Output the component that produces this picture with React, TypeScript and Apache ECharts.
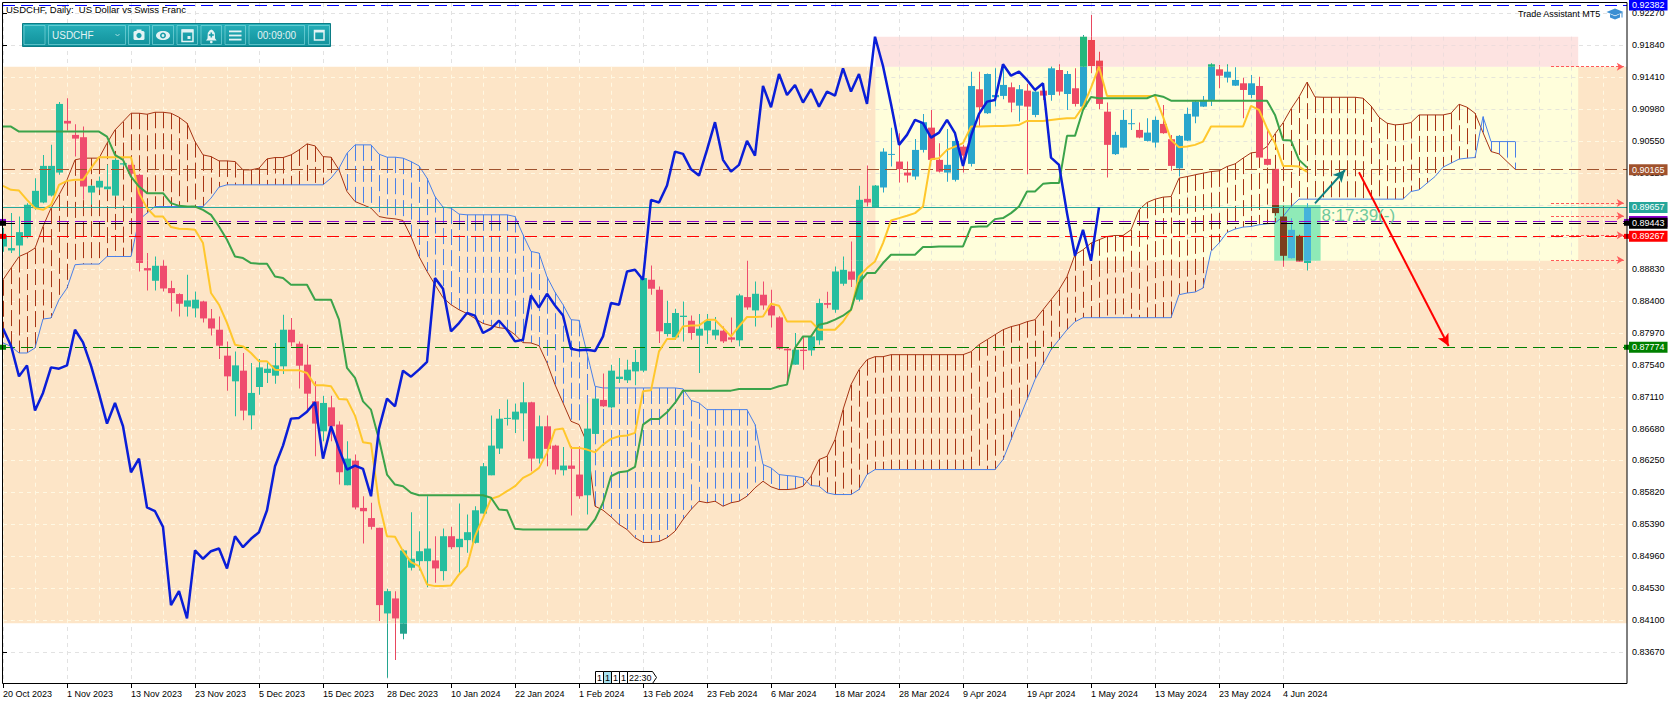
import React, { useEffect, useRef } from "react";
import * as echarts from "echarts";

const FONT = '"Liberation Sans", Arial, sans-serif';

// ---------- axis labels ----------
const DATE_LABELS = [
  "20 Oct 2023", "1 Nov 2023", "13 Nov 2023", "23 Nov 2023", "5 Dec 2023", "15 Dec 2023",
  "28 Dec 2023", "10 Jan 2024", "22 Jan 2024", "1 Feb 2024", "13 Feb 2024", "23 Feb 2024",
  "6 Mar 2024", "18 Mar 2024", "28 Mar 2024", "9 Apr 2024", "19 Apr 2024", "1 May 2024",
  "13 May 2024", "23 May 2024", "4 Jun 2024",
];
const LABEL_STEP = 8;
const Y_TICKS = [
  0.8367, 0.841, 0.8453, 0.8496, 0.8539, 0.8582, 0.8625, 0.8668, 0.8711, 0.8754, 0.8797,
  0.884, 0.8883, 0.8926, 0.8969, 0.9012, 0.9055, 0.9098, 0.9141, 0.9184, 0.9227,
];
const Y_MIN = 0.8324;
const Y_MAX = 0.92409;
const Y_STEP = 0.0043;
const X_MAX = 203;
const X_GRID = 4;

// ---------- candles ----------
const OPEN = [
  0.8913, 0.89077, 0.89144, 0.89257, 0.89647, 0.89723, 0.89816, 0.90126, 0.90822, 0.90633,
  0.90602, 0.89857, 0.89925, 0.89902, 0.89816, 0.90234, 0.9023, 0.90095, 0.8884, 0.88669,
  0.88871, 0.88571, 0.8849, 0.8832, 0.88297, 0.88391, 0.88162, 0.8801, 0.87661, 0.87315,
  0.87459, 0.86857, 0.87239, 0.87428, 0.87391, 0.87517, 0.8801, 0.87822, 0.8754, 0.87046,
  0.86642, 0.86965, 0.86733, 0.85916, 0.86248, 0.85611, 0.85474, 0.85343, 0.8419, 0.84392,
  0.83917, 0.84805, 0.84894, 0.84894, 0.84904, 0.8476, 0.8523, 0.85082, 0.85177, 0.85141,
  0.85535, 0.8605, 0.8641, 0.86809, 0.868, 0.86884, 0.87033, 0.86275, 0.8671, 0.8645,
  0.86118, 0.86181, 0.8606, 0.85781, 0.86607, 0.87065, 0.86965, 0.87347, 0.87329, 0.87449,
  0.87459, 0.88683, 0.88548, 0.87952, 0.87907, 0.88181, 0.88131, 0.8793, 0.88001, 0.87933,
  0.87997, 0.87907, 0.87867, 0.8845, 0.8827, 0.88481, 0.88333, 0.88176, 0.87754, 0.8754,
  0.87741, 0.87732, 0.87867, 0.88369, 0.88279, 0.88629, 0.88794, 0.88414, 0.89772, 0.8966,
  0.89925, 0.90364, 0.90274, 0.90126, 0.90073, 0.90431, 0.90731, 0.90297, 0.90126, 0.90028,
  0.90475, 0.90243, 0.91247, 0.90925, 0.9114, 0.91158, 0.91275, 0.91027, 0.91229, 0.90902,
  0.91229, 0.91171, 0.91507, 0.91184, 0.91261, 0.91014, 0.91911, 0.91633, 0.90946, 0.90374,
  0.90462, 0.90777, 0.907, 0.90552, 0.9053, 0.90781, 0.90575, 0.90184, 0.90556, 0.9088,
  0.91014, 0.91104, 0.91516, 0.91404, 0.91296, 0.91328, 0.91171, 0.91292, 0.9031, 0.90176,
  0.89534, 0.88974, 0.89274, 0.88908,
];
const HIGH = [
  0.89382, 0.8958, 0.89534, 0.89714, 0.90051, 0.90364, 0.90499, 0.91077, 0.91127, 0.90777,
  0.90745, 0.8996, 0.90073, 0.9023, 0.90341, 0.90297, 0.9027, 0.9011, 0.89042, 0.88996,
  0.88952, 0.88669, 0.885, 0.8875, 0.88525, 0.884, 0.88288, 0.88189, 0.87853, 0.87718,
  0.87697, 0.87563, 0.87616, 0.87563, 0.87831, 0.88212, 0.88168, 0.87853, 0.87808, 0.87315,
  0.87122, 0.87122, 0.86777, 0.86508, 0.86329, 0.85768, 0.85679, 0.85343, 0.84522, 0.8449,
  0.8505, 0.85553, 0.85297, 0.85768, 0.8523, 0.85333, 0.85356, 0.8567, 0.85522, 0.85633,
  0.86217, 0.86854, 0.86943, 0.87069, 0.87015, 0.87302, 0.8704, 0.86854, 0.86854, 0.8646,
  0.86432, 0.86441, 0.86441, 0.87024, 0.871, 0.87419, 0.8754, 0.8763, 0.87607, 0.87741,
  0.8872, 0.88875, 0.88592, 0.884, 0.88293, 0.88391, 0.88202, 0.88221, 0.88221, 0.88181,
  0.88054, 0.88176, 0.88494, 0.88938, 0.8866, 0.8866, 0.88548, 0.8819, 0.8776, 0.87966,
  0.8792, 0.8793, 0.88427, 0.88521, 0.88862, 0.88996, 0.89198, 0.89947, 0.9022, 0.8996,
  0.90454, 0.90731, 0.90656, 0.90274, 0.90579, 0.90916, 0.90969, 0.90521, 0.90713, 0.90664,
  0.90499, 0.91484, 0.91484, 0.9146, 0.9153, 0.91584, 0.91337, 0.91306, 0.91319, 0.91261,
  0.91328, 0.91552, 0.91584, 0.91493, 0.9153, 0.91978, 0.92247, 0.91754, 0.91068, 0.90677,
  0.90969, 0.90978, 0.90799, 0.90857, 0.9088, 0.91036, 0.90633, 0.90633, 0.91, 0.91104,
  0.91158, 0.91597, 0.91574, 0.91584, 0.91543, 0.91404, 0.9144, 0.91417, 0.907, 0.9018,
  0.89678, 0.89512, 0.8929, 0.89714,
];
const LOW = [
  0.89059, 0.89042, 0.88996, 0.89243, 0.89624, 0.89714, 0.89803, 0.90095, 0.90691, 0.90341,
  0.89759, 0.89692, 0.89893, 0.89893, 0.89803, 0.90207, 0.9006, 0.88794, 0.88539, 0.88539,
  0.88525, 0.88256, 0.88189, 0.88189, 0.88176, 0.88108, 0.87933, 0.87616, 0.8719, 0.86844,
  0.86791, 0.86665, 0.87136, 0.87293, 0.87284, 0.87414, 0.87786, 0.87217, 0.86934, 0.86306,
  0.86508, 0.86508, 0.85925, 0.85916, 0.85589, 0.85132, 0.8532, 0.84087, 0.83325, 0.83563,
  0.83841, 0.84769, 0.84769, 0.84544, 0.84604, 0.84634, 0.85055, 0.84738, 0.85006, 0.85132,
  0.85535, 0.8605, 0.86338, 0.86719, 0.86621, 0.86508, 0.86104, 0.86208, 0.86172, 0.8606,
  0.86046, 0.85508, 0.85733, 0.85522, 0.8659, 0.8697, 0.8695, 0.87293, 0.87293, 0.87261,
  0.87436, 0.88481, 0.87831, 0.8792, 0.87876, 0.87853, 0.87876, 0.87428, 0.87818, 0.87876,
  0.87831, 0.8784, 0.87786, 0.88279, 0.88054, 0.88279, 0.88041, 0.87741, 0.87302, 0.8754,
  0.87472, 0.87661, 0.87808, 0.883, 0.8824, 0.88602, 0.88584, 0.88391, 0.89669, 0.8965,
  0.89857, 0.90207, 0.89992, 0.89992, 0.90028, 0.90395, 0.90284, 0.90126, 0.90001, 0.90005,
  0.90126, 0.90207, 0.90754, 0.90916, 0.91014, 0.91113, 0.90938, 0.90812, 0.90104, 0.90871,
  0.91104, 0.91094, 0.91162, 0.90969, 0.91014, 0.90969, 0.91463, 0.90979, 0.90059, 0.90364,
  0.90462, 0.907, 0.90589, 0.90543, 0.90462, 0.90647, 0.90149, 0.90073, 0.9055, 0.90791,
  0.9101, 0.91023, 0.91261, 0.91337, 0.91292, 0.90857, 0.91127, 0.9032, 0.9022, 0.89543,
  0.88858, 0.8897, 0.88925, 0.88808,
];
const CLOSE = [
  0.89288, 0.89109, 0.89324, 0.89692, 0.8988, 0.90216, 0.90216, 0.9105, 0.90786, 0.90583,
  0.89938, 0.89947, 0.90015, 0.89938, 0.90297, 0.90252, 0.9011, 0.88908, 0.88808, 0.88871,
  0.88565, 0.88503, 0.8836, 0.88405, 0.88414, 0.88162, 0.88027, 0.87795, 0.87382, 0.8753,
  0.86921, 0.87159, 0.87503, 0.87485, 0.8753, 0.8801, 0.8784, 0.87526, 0.87149, 0.86746,
  0.87024, 0.8671, 0.86091, 0.86275, 0.85617, 0.85566, 0.85356, 0.84302, 0.8449, 0.84123,
  0.85038, 0.84926, 0.85028, 0.85064, 0.84796, 0.8523, 0.85082, 0.85195, 0.85284, 0.85579,
  0.86172, 0.8645, 0.86813, 0.86823, 0.86907, 0.87033, 0.86275, 0.8671, 0.86406, 0.86127,
  0.86181, 0.86137, 0.85768, 0.86679, 0.87082, 0.86979, 0.87459, 0.87378, 0.87472, 0.87576,
  0.88706, 0.88562, 0.87988, 0.881, 0.88235, 0.88199, 0.87966, 0.88024, 0.88131, 0.8801,
  0.87853, 0.87876, 0.88472, 0.8831, 0.88494, 0.88337, 0.88202, 0.87754, 0.87732, 0.87741,
  0.87723, 0.8792, 0.88369, 0.88346, 0.88794, 0.88817, 0.88683, 0.89759, 0.89723, 0.89951,
  0.90408, 0.90377, 0.90171, 0.90086, 0.90431, 0.90804, 0.90297, 0.90139, 0.9023, 0.90552,
  0.90354, 0.91292, 0.91005, 0.91453, 0.91171, 0.91306, 0.91068, 0.91248, 0.91014, 0.91216,
  0.91162, 0.9153, 0.91216, 0.91453, 0.9105, 0.91955, 0.91561, 0.9105, 0.90499, 0.90633,
  0.90835, 0.90791, 0.90597, 0.90664, 0.90835, 0.90656, 0.90216, 0.9062, 0.90916, 0.91081,
  0.91104, 0.91584, 0.9143, 0.91484, 0.91373, 0.91238, 0.91328, 0.90328, 0.9023, 0.8958,
  0.89005, 0.89355, 0.88938, 0.89657,
];

// ---------- Ichimoku lines ----------
const TENKAN = [
  0.89947, 0.89893, 0.89884, 0.89759, 0.89647, 0.89624, 0.89692, 0.8996, 0.90014, 0.90028,
  0.90028, 0.90185, 0.90333, 0.90333, 0.90333, 0.90333, 0.90333, 0.89849, 0.89647, 0.89534,
  0.89534, 0.89392, 0.89369, 0.89365, 0.89355, 0.89177, 0.88504, 0.88347, 0.88101, 0.87809,
  0.87786, 0.87697, 0.87584, 0.87584, 0.87472, 0.87463, 0.87463, 0.87463, 0.87428, 0.87261,
  0.87261, 0.87248, 0.87078, 0.87069, 0.86854, 0.86495, 0.86477, 0.8568, 0.8523, 0.85222,
  0.85029, 0.84881, 0.84827, 0.84581, 0.84558, 0.84558, 0.84567, 0.84715, 0.84827, 0.8523,
  0.85478, 0.85733, 0.85768, 0.85836, 0.85903, 0.86016, 0.8607, 0.8615, 0.86352, 0.86665,
  0.86679, 0.86419, 0.86419, 0.86396, 0.8636, 0.86463, 0.8654, 0.86575, 0.86585, 0.86621,
  0.87181, 0.87194, 0.87718, 0.87885, 0.87885, 0.88055, 0.88068, 0.88068, 0.88145, 0.88145,
  0.88033, 0.8792, 0.88055, 0.88181, 0.88181, 0.88189, 0.8836, 0.88333, 0.88122, 0.88122,
  0.88122, 0.88122, 0.8801, 0.8801, 0.8801, 0.88118, 0.88279, 0.88727, 0.8884, 0.88929,
  0.89177, 0.8948, 0.89513, 0.89544, 0.8958, 0.89669, 0.90306, 0.9032, 0.90431, 0.90476,
  0.90522, 0.90745, 0.90745, 0.9075, 0.90754, 0.90754, 0.90761, 0.90768, 0.90821, 0.90821,
  0.90821, 0.90835, 0.90848, 0.90858, 0.90858, 0.91014, 0.91265, 0.91552, 0.91158, 0.91158,
  0.91158, 0.91158, 0.91158, 0.91158, 0.91158, 0.90879, 0.90566, 0.90468, 0.90476, 0.90499,
  0.90543, 0.90745, 0.90745, 0.90745, 0.90745, 0.90745, 0.91023, 0.90969, 0.90723, 0.90522,
  0.90216, 0.90216, 0.90207, 0.90136,
];
const KIJUN = [
  0.90745, 0.90745, 0.90678, 0.90678, 0.90678, 0.90678, 0.90678, 0.90678, 0.90678, 0.90678,
  0.90678, 0.90678, 0.90678, 0.9061, 0.90364, 0.90297, 0.90072, 0.89938, 0.89849, 0.89849,
  0.89849, 0.89715, 0.89678, 0.89669, 0.89669, 0.89624, 0.89557, 0.894, 0.89221, 0.88996,
  0.88975, 0.88908, 0.88898, 0.88898, 0.88727, 0.88706, 0.88616, 0.88616, 0.88616, 0.88414,
  0.88414, 0.88414, 0.88145, 0.87495, 0.87361, 0.87046, 0.86934, 0.86531, 0.8606, 0.85926,
  0.85903, 0.85814, 0.85782, 0.85782, 0.85782, 0.85782, 0.85782, 0.85782, 0.85782, 0.85782,
  0.85782, 0.85747, 0.85589, 0.8558, 0.8533, 0.8532, 0.8532, 0.8532, 0.8532, 0.8532,
  0.8532, 0.8532, 0.8532, 0.8532, 0.85455, 0.8568, 0.86037, 0.86091, 0.86104, 0.86163,
  0.86732, 0.86809, 0.86809, 0.86898, 0.87024, 0.8719, 0.8719, 0.8719, 0.8719, 0.8719,
  0.8719, 0.8719, 0.87213, 0.87213, 0.87213, 0.87213, 0.87213, 0.87248, 0.87271, 0.87764,
  0.8792, 0.8792, 0.88078, 0.88101, 0.88145, 0.88199, 0.88279, 0.88639, 0.88773, 0.88773,
  0.88908, 0.8902, 0.8902, 0.8902, 0.8902, 0.89123, 0.89123, 0.89131, 0.89131, 0.89131,
  0.89131, 0.89392, 0.894, 0.894, 0.89499, 0.89513, 0.8958, 0.89669, 0.89871, 0.89871,
  0.89974, 0.89984, 0.89984, 0.9062, 0.9062, 0.90969, 0.91144, 0.91127, 0.91127, 0.91127,
  0.91127, 0.91127, 0.91127, 0.91127, 0.91171, 0.91148, 0.91094, 0.91094, 0.91094, 0.91094,
  0.91094, 0.91094, 0.91094, 0.91094, 0.91094, 0.91094, 0.91094, 0.91094, 0.91094, 0.90902,
  0.90566, 0.90557, 0.90297, 0.90196,
];
const SPAN_A = [
  0.88683, 0.8884, 0.88996, 0.89042, 0.89109, 0.894, 0.89647, 0.89826, 0.90028, 0.90297,
  0.9032, 0.9032, 0.9032, 0.90522, 0.907, 0.90812, 0.90925, 0.90925, 0.90911, 0.90938,
  0.90938, 0.90925, 0.90871, 0.90791, 0.90543, 0.90364, 0.90341, 0.90283, 0.90283, 0.90274,
  0.90162, 0.90162, 0.90185, 0.9031, 0.90328, 0.90328, 0.90364, 0.90431, 0.90512, 0.90485,
  0.90341, 0.90333, 0.90162, 0.89871, 0.89736, 0.89692, 0.89647, 0.89534, 0.89513, 0.89503,
  0.89481, 0.89265, 0.88996, 0.88795, 0.88616, 0.88441, 0.88347, 0.88279, 0.88228, 0.88161,
  0.88095, 0.88064, 0.88037, 0.88024, 0.87943, 0.87836, 0.87832, 0.87795, 0.87563, 0.87271,
  0.87025, 0.86777, 0.86733, 0.86487, 0.85634, 0.8558, 0.85491, 0.85388, 0.8532, 0.85209,
  0.85146, 0.85146, 0.85159, 0.85209, 0.85297, 0.85455, 0.85589, 0.85701, 0.8568, 0.85701,
  0.85634, 0.8568, 0.85701, 0.85768, 0.85881, 0.8597, 0.85895, 0.85858, 0.85858, 0.85868,
  0.85903, 0.86037, 0.86262, 0.86306, 0.86531, 0.86934, 0.87271, 0.87472, 0.87607, 0.87647,
  0.87647, 0.87674, 0.87674, 0.87674, 0.87674, 0.87674, 0.87674, 0.87674, 0.87674, 0.87674,
  0.87674, 0.87714, 0.87809, 0.87876, 0.87943, 0.8801, 0.88051, 0.88078, 0.88118, 0.88145,
  0.88279, 0.88414, 0.88548, 0.88727, 0.8902, 0.89086, 0.89177, 0.89221, 0.89265, 0.89279,
  0.89279, 0.89355, 0.89624, 0.89723, 0.89768, 0.89795, 0.89803, 0.90051, 0.90072, 0.90095,
  0.90118, 0.90139, 0.90149, 0.90207, 0.90243, 0.9032, 0.90391, 0.90404, 0.90476, 0.90647,
  0.90795, 0.90983, 0.91144, 0.91343, 0.91144, 0.9114, 0.9114, 0.9114, 0.9114, 0.9114,
  0.91127, 0.91023, 0.90871, 0.90791, 0.90768, 0.90777, 0.90799, 0.90902, 0.90902, 0.90902,
  0.90902, 0.90925, 0.91046, 0.91006, 0.90925, 0.90664, 0.90409, 0.90378, 0.90274, 0.90172,
];
const SPAN_B = [
  0.87832, 0.87786, 0.87697, 0.87697, 0.87764, 0.88154, 0.88168, 0.88414, 0.88571, 0.88885,
  0.88894, 0.88894, 0.88894, 0.88996, 0.88996, 0.88996, 0.88996, 0.8949, 0.8958, 0.89669,
  0.89669, 0.89669, 0.89669, 0.89669, 0.89669, 0.89669, 0.89782, 0.8993, 0.89961, 0.89961,
  0.89961, 0.89961, 0.89961, 0.89961, 0.89961, 0.89961, 0.89961, 0.89961, 0.89961, 0.89961,
  0.89961, 0.90051, 0.90185, 0.90387, 0.90499, 0.90499, 0.90499, 0.90374, 0.90333, 0.90333,
  0.9032, 0.90274, 0.90216, 0.90051, 0.89803, 0.89661, 0.89647, 0.89567, 0.89557, 0.89557,
  0.89557, 0.89557, 0.89557, 0.89557, 0.89534, 0.89288, 0.89064, 0.89042, 0.88723, 0.88515,
  0.88347, 0.88145, 0.88136, 0.87697, 0.87248, 0.87226, 0.87226, 0.87226, 0.87226, 0.87226,
  0.87226, 0.87226, 0.87226, 0.87226, 0.87226, 0.87213, 0.87059, 0.87025, 0.86934, 0.86934,
  0.86934, 0.86934, 0.86934, 0.86934, 0.86733, 0.86195, 0.8615, 0.8606, 0.86047, 0.86037,
  0.86016, 0.85912, 0.85903, 0.85814, 0.85791, 0.85791, 0.85791, 0.85858, 0.8606, 0.86127,
  0.86127, 0.86127, 0.86127, 0.86127, 0.86127, 0.86127, 0.86127, 0.86127, 0.86127, 0.86127,
  0.86127, 0.86127, 0.86127, 0.86127, 0.86127, 0.86262, 0.86531, 0.868, 0.87069, 0.87338,
  0.8754, 0.87741, 0.87876, 0.8801, 0.88118, 0.88172, 0.88172, 0.88172, 0.88172, 0.88172,
  0.88172, 0.88172, 0.88172, 0.88172, 0.88172, 0.88172, 0.88172, 0.88481, 0.88504, 0.88517,
  0.88571, 0.89064, 0.89177, 0.89319, 0.89365, 0.89392, 0.894, 0.89423, 0.89436, 0.89446,
  0.89534, 0.89669, 0.89768, 0.89768, 0.89768, 0.89768, 0.89768, 0.89768, 0.89768, 0.89768,
  0.89768, 0.89768, 0.89768, 0.89768, 0.89768, 0.89768, 0.89871, 0.89893, 0.89984, 0.90072,
  0.90199, 0.90253, 0.90307, 0.9032, 0.90328, 0.90879, 0.90543, 0.90543, 0.90543, 0.90543,
];
const CHIKOU_SHIFT = 26;

// ---------- drawn objects ----------
// zones in priority order: box, pink, yellow, peach
const ZONE_X0 = [158.9, 109.05, 109.05, -5];
const ZONE_X1 = [164.7, 196.9, 196.9, 260];
const ZONE_P0 = [0.88939, 0.91551, 0.88939, 0.84057];
const ZONE_P1 = [0.8969, 0.91955, 0.91551, 0.91551];
const ZONE_FILL = ["#8FEAB7", "#FDE3E1", "#FFFEDB", "#FDE5C7"];
const ZONE_GRID = ["", "#EEDCDC", "#E6E6DA", "#FFF8E2"];
const BULL_ZONE = ["#45B3DB", "#22B77C", "#29A6CC", "#26BE9F"];
const BEAR_ZONE = ["#7B3F1E", "#EE4552", "#EE4A63", "#EF4C6E"];
const BULL_PLAIN = "#23A48F";
const BEAR_PLAIN = "#E8475F";

// horizontal levels: without end squares / with end squares
const PLAIN_LEVELS = [0.92382, 0.90165, 0.89657];
const PLAIN_COLORS = ["#0000FF", "#A0522D", "#26A69A"];
const PLAIN_SOLID = [false, false, true];
const SQUARE_LEVELS = [0.89468, 0.89443, 0.89267, 0.87774];
const SQUARE_COLORS = ["#8B00D0", "#000000", "#FF0000", "#008000"];

const RIGHT_ARROW_PRICES = [0.91551, 0.89716, 0.89541, 0.89281, 0.88949];
const RIGHT_ARROW_X = [193.5, 202.6];
const RED_ARROW_X = [169.5, 180.7];
const RED_ARROW_P = [0.9013, 0.8779];
const TEAL_ARROW_X = [164.0, 167.75];
const TEAL_ARROW_P = [0.89712, 0.9016];
const TIMER = { x: 164.8, p: 0.89548, text: "8:17:39(-)" };

// ---------- helpers ----------
function zoneAt(x: number, p: number): number {
  for (let z = 0; z < ZONE_X0.length; z++) {
    if (x >= ZONE_X0[z] && x <= ZONE_X1[z] && p >= ZONE_P0[z] && p <= ZONE_P1[z]) return z;
  }
  return -1;
}
const CUTS = [...ZONE_P0, ...ZONE_P1]
  .filter((v, k, a) => a.indexOf(v) === k)
  .sort((a, b) => a - b);
function splitRange(lo: number, hi: number): number[][] {
  const pts = [lo, ...CUTS.filter((c) => c > lo && c < hi), hi];
  const out: number[][] = [];
  for (let k = 1; k < pts.length; k++) out.push([pts[k - 1], pts[k]]);
  return out;
}

function levelItem(p: number, color: string, solid: boolean) {
  return {
    yAxis: p,
    lineStyle: { color, width: 1, type: solid ? "solid" : [12, 6] },
    label: {
      show: true,
      position: "end",
      distance: 2,
      formatter: p.toFixed(5),
      color: "#FFFFFF",
      backgroundColor: color,
      padding: [1, 3, 0, 3],
      lineHeight: 10,
      fontSize: 9,
      fontFamily: FONT,
    },
  };
}

function buildOption(): any {
  const labelBars = DATE_LABELS.map((_, k) => k * LABEL_STEP);

  const renderZone = (params: any, api: any) => {
    const z = api.value(0);
    const x0 = api.value(1), x1 = api.value(2), p0 = api.value(3), p1 = api.value(4);
    const cs = params.coordSys;
    const tl = api.coord([x0, p1]);
    const br = api.coord([x1, p0]);
    const left = Math.max(cs.x, tl[0]);
    const right = Math.min(cs.x + cs.width, br[0]);
    const top = Math.max(cs.y, tl[1]);
    const bottom = Math.min(cs.y + cs.height, br[1]);
    const children: any[] = [
      { type: "rect", shape: { x: left, y: top, width: right - left, height: bottom - top }, style: { fill: ZONE_FILL[z] } },
    ];
    const gc = ZONE_GRID[z];
    if (gc) {
      for (const t of Y_TICKS) {
        if (t > p0 && t < p1) {
          const y = Math.round(api.coord([0, t])[1]) + 0.5;
          children.push({ type: "line", shape: { x1: left, y1: y, x2: right, y2: y }, style: { stroke: gc, lineWidth: 1, lineDash: [4, 4] } });
        }
      }
      for (let b = 0; b <= X_MAX; b += X_GRID) {
        if (b > x0 && b < x1) {
          const x = Math.round(api.coord([b, p0])[0]) + 0.5;
          children.push({ type: "line", shape: { x1: x, y1: top, x2: x, y2: bottom }, style: { stroke: gc, lineWidth: 1, lineDash: [4, 4] } });
        }
      }
    }
    return { type: "group", children };
  };

  const renderHatch = (params: any, api: any) => {
    const i = api.value(0), a = api.value(1), b = api.value(2);
    const p1 = api.coord([i, Math.max(a, b)]);
    const p2 = api.coord([i, Math.min(a, b)]);
    const x = Math.round(p1[0]) + 0.5;
    return {
      type: "line",
      shape: { x1: x, y1: p1[1], x2: x, y2: p2[1] },
      style: { stroke: a >= b ? "#A63414" : "#4A80E8", lineWidth: 1, lineDash: [16, 5] },
    };
  };

  const renderCandle = (params: any, api: any) => {
    const i = api.value(0), o = api.value(1), h = api.value(2), l = api.value(3), c = api.value(4);
    const bull = c >= o;
    const cx = Math.round(api.coord([i, o])[0]);
    const colorFor = (p: number) => {
      const z = zoneAt(i, p);
      if (bull) return z >= 0 ? BULL_ZONE[z] : BULL_PLAIN;
      return z >= 0 ? BEAR_ZONE[z] : BEAR_PLAIN;
    };
    const children: any[] = [];
    for (const [a, b] of splitRange(l, h)) {
      const yt = api.coord([i, b])[1];
      const yb = api.coord([i, a])[1];
      children.push({ type: "rect", shape: { x: cx, y: yt, width: 1, height: Math.max(1, yb - yt) }, style: { fill: colorFor((a + b) / 2) } });
    }
    const top = Math.max(o, c), bot = Math.min(o, c);
    const parts = top - bot < 1e-6 ? [[bot, top]] : splitRange(bot, top);
    for (const [a, b] of parts) {
      const yt = api.coord([i, b])[1];
      const yb = api.coord([i, a])[1];
      children.push({ type: "rect", shape: { x: cx - 3, y: yt, width: 7, height: Math.max(1, yb - yt) }, style: { fill: colorFor((a + b) / 2) } });
    }
    return { type: "group", children };
  };

  const rightArrows = RIGHT_ARROW_PRICES.map((p) => [
    { coord: [RIGHT_ARROW_X[0], p], lineStyle: { color: "#FF5A5A", width: 1, type: [3, 2] }, label: { show: false } },
    { coord: [RIGHT_ARROW_X[1], p] },
  ]);

  const arrows = [
    [
      { coord: [RED_ARROW_X[0], RED_ARROW_P[0]], lineStyle: { color: "#FF0000", width: 2, type: "solid" }, label: { show: false } },
      { coord: [RED_ARROW_X[1], RED_ARROW_P[1]] },
    ],
    [
      { coord: [TEAL_ARROW_X[0], TEAL_ARROW_P[0]], lineStyle: { color: "#0E7F80", width: 2, type: "solid" }, label: { show: false } },
      { coord: [TEAL_ARROW_X[1], TEAL_ARROW_P[1]] },
    ],
  ];

  const segs = [
    [23.5, 45.5], [48, 126], [128, 150], [152, 174], [176.5, 198], [200.5, 222], [224.5, 246], [248.5, 305], [308, 330],
  ];
  const ICON = "#E4F3F4";
  const graphic: any[] = [
    { type: "text", x: 6, y: 9.5, z: 100, style: { text: "USDCHF, Daily:  US Dollar vs Swiss Franc", fill: "#000", font: `9.5px ${FONT}`, verticalAlign: "middle" } },
    {
      type: "rect", z: 100, shape: { x: 22.5, y: 23.5, width: 308, height: 23 },
      style: {
        fill: new echarts.graphic.LinearGradient(0, 0, 0, 1, [
          { offset: 0, color: "#27B0BA" },
          { offset: 1, color: "#11909A" },
        ]),
        stroke: "#0B7C85", lineWidth: 1,
      },
    },
    ...segs.map(([a, b]) => ({ type: "rect", z: 101, shape: { x: a + 0.5, y: 25.5, width: b - a - 1, height: 19 }, style: { fill: "none", stroke: "rgba(150,228,232,0.55)", lineWidth: 1 } })),
    { type: "text", x: 52, y: 35.5, z: 102, style: { text: "USDCHF", fill: ICON, font: `10px ${FONT}`, verticalAlign: "middle" } },
    { type: "polyline", z: 102, shape: { points: [[115.5, 34], [117.5, 36], [119.5, 34]] }, style: { stroke: "#A9DDE1", lineWidth: 1, fill: "none" } },
    { type: "rect", z: 102, shape: { x: 133.5, y: 31, width: 11, height: 9, r: 1.5 }, style: { fill: ICON } },
    { type: "rect", z: 102, shape: { x: 136.5, y: 29.5, width: 5, height: 2 }, style: { fill: ICON } },
    { type: "circle", z: 103, shape: { cx: 139, cy: 35.5, r: 2.6 }, style: { fill: "#1A9FA9" } },
    { type: "ellipse", z: 102, shape: { cx: 163, cy: 35.5, rx: 7, ry: 4.6 }, style: { fill: ICON } },
    { type: "circle", z: 103, shape: { cx: 163, cy: 35.5, r: 3 }, style: { fill: "#1A9FA9" } },
    { type: "circle", z: 104, shape: { cx: 163, cy: 35.5, r: 1.4 }, style: { fill: ICON } },
    { type: "rect", z: 102, shape: { x: 182, y: 30, width: 11, height: 11.5 }, style: { fill: "none", stroke: ICON, lineWidth: 1.5 } },
    { type: "rect", z: 102, shape: { x: 182, y: 29.5, width: 11, height: 3 }, style: { fill: ICON } },
    { type: "rect", z: 102, shape: { x: 187.5, y: 36, width: 3, height: 3 }, style: { fill: ICON } },
    { type: "polygon", z: 102, shape: { points: [[206, 40.5], [207.5, 38.5], [207.8, 33], [209.5, 30.5], [211.3, 29.5], [213.1, 30.5], [214.8, 33], [215.1, 38.5], [216.6, 40.5]] }, style: { fill: ICON } },
    { type: "circle", z: 102, shape: { cx: 211.3, cy: 42, r: 1.3 }, style: { fill: ICON } },
    { type: "rect", z: 103, shape: { x: 210.5, y: 32.5, width: 1.6, height: 5 }, style: { fill: "#1A9FA9" } },
    { type: "rect", z: 103, shape: { x: 208.8, y: 34.2, width: 5, height: 1.6 }, style: { fill: "#1A9FA9" } },
    { type: "rect", z: 102, shape: { x: 229, y: 30.5, width: 12.5, height: 1.8 }, style: { fill: ICON } },
    { type: "rect", z: 102, shape: { x: 229, y: 34.6, width: 12.5, height: 1.8 }, style: { fill: ICON } },
    { type: "rect", z: 102, shape: { x: 229, y: 38.7, width: 12.5, height: 1.8 }, style: { fill: ICON } },
    { type: "text", x: 276.7, y: 35.5, z: 102, style: { text: "00:09:00", fill: ICON, font: `10px ${FONT}`, align: "center", verticalAlign: "middle" } },
    { type: "rect", z: 102, shape: { x: 314.5, y: 30.5, width: 9.5, height: 9.5 }, style: { fill: "none", stroke: ICON, lineWidth: 1.5 } },
    { type: "rect", z: 102, shape: { x: 314.5, y: 30, width: 9.5, height: 2.5 }, style: { fill: ICON } },
    { type: "text", x: 1518, y: 14, z: 100, style: { text: "Trade Assistant MT5", fill: "#000", font: `9px ${FONT}`, verticalAlign: "middle" } },
    { type: "polygon", z: 100, shape: { points: [[1606.5, 12], [1615, 8.5], [1623.5, 12], [1615, 15.5]] }, style: { fill: "#3A8FD3" } },
    { type: "polygon", z: 100, shape: { points: [[1610, 14], [1615, 16.2], [1620, 14], [1620, 17.5], [1615, 19.5], [1610, 17.5]] }, style: { fill: "#3A8FD3" } },
    { type: "line", z: 100, shape: { x1: 1622, y1: 12.5, x2: 1622, y2: 17.5 }, style: { stroke: "#3A8FD3", lineWidth: 1 } },
    ...[0, 1, 2, 3].map((k) => ({ type: "rect", z: 100, shape: { x: 595.5 + k * 8, y: 671.5, width: 8, height: 12 }, style: { fill: k === 1 ? "#A8E2F0" : "#FFFFFF", stroke: "#000", lineWidth: 1 } })),
    ...[0, 1, 2, 3].map((k) => ({ type: "text", x: 599.5 + k * 8, y: 678, z: 101, style: { text: "1", fill: "#000", font: `9px ${FONT}`, align: "center", verticalAlign: "middle" } })),
    { type: "polygon", z: 100, shape: { points: [[627.5, 671.5], [652.5, 671.5], [656.5, 677.5], [652.5, 683.5], [627.5, 683.5]] }, style: { fill: "#FFFFFF", stroke: "#000", lineWidth: 1 } },
    { type: "text", x: 629, y: 678, z: 101, style: { text: "22:30", fill: "#000", font: `9px ${FONT}`, verticalAlign: "middle" } },
    { type: "rect", z: 120, shape: { x: 2.5, y: 2.5, width: 1624.5, height: 681 }, style: { fill: "none", stroke: "#000", lineWidth: 1 } },
  ];

  return {
    animation: false,
    backgroundColor: "#FFFFFF",
    grid: { left: 3, right: 52, top: 3, bottom: 21, show: false },
    xAxis: {
      type: "value",
      min: 0,
      max: X_MAX,
      interval: X_GRID,
      axisLine: { show: false },
      axisTick: { show: true, customValues: labelBars, length: 4, lineStyle: { color: "#000" } },
      axisLabel: {
        customValues: labelBars,
        formatter: (v: number) => DATE_LABELS[Math.round(v / LABEL_STEP)] ?? "",
        align: "left",
        margin: 5,
        color: "#000",
        fontSize: 9,
        fontFamily: FONT,
      },
      splitLine: { show: true, lineStyle: { color: "#E2E2E2", type: [4, 4], width: 1 } },
    },
    yAxis: {
      type: "value",
      position: "right",
      min: Y_MIN,
      max: Y_MAX,
      interval: Y_STEP,
      axisLine: { show: false },
      axisTick: { show: true, customValues: Y_TICKS, length: 4, lineStyle: { color: "#000" } },
      axisLabel: {
        customValues: Y_TICKS,
        formatter: (v: number) => v.toFixed(5),
        margin: 5,
        color: "#000",
        fontSize: 9,
        fontFamily: FONT,
      },
      splitLine: { show: true, lineStyle: { color: "#E2E2E2", type: [4, 4], width: 1 } },
    },
    series: [
      {
        type: "custom",
        z: 1,
        silent: true,
        clip: true,
        renderItem: renderZone,
        encode: { x: [1, 2], y: [3, 4] },
        data: [3, 2, 1, 0].map((z) => [z, ZONE_X0[z], ZONE_X1[z], ZONE_P0[z], ZONE_P1[z]]),
      },
      {
        type: "custom",
        z: 2,
        silent: true,
        clip: true,
        renderItem: renderHatch,
        encode: { x: 0, y: [1, 2] },
        data: SPAN_A.map((a, i) => [i, a, SPAN_B[i]]),
      },
      {
        type: "line", z: 3, silent: true, symbol: "none",
        lineStyle: { color: "#A63414", width: 1 },
        data: SPAN_A.map((v, i) => [i, v]),
      },
      {
        type: "line", z: 3, silent: true, symbol: "none",
        lineStyle: { color: "#4A80E8", width: 1 },
        data: SPAN_B.map((v, i) => [i, v]),
      },
      {
        type: "custom",
        z: 4,
        silent: true,
        clip: true,
        renderItem: renderCandle,
        encode: { x: 0, y: [1, 2, 3, 4] },
        data: OPEN.map((o, i) => [i, o, HIGH[i], LOW[i], CLOSE[i]]),
      },
      {
        type: "line",
        z: 5,
        silent: true,
        data: [],
        markLine: {
          silent: true, animation: false, precision: 5,
          symbol: ["none", "none"],
          data: PLAIN_LEVELS.map((p, k) => levelItem(p, PLAIN_COLORS[k], PLAIN_SOLID[k])),
        },
      },
      {
        type: "line",
        z: 5,
        silent: true,
        data: [],
        markLine: {
          silent: true, animation: false, precision: 5,
          symbol: ["rect", "rect"], symbolSize: [5, 6],
          data: SQUARE_LEVELS.map((p, k) => levelItem(p, SQUARE_COLORS[k], false)),
        },
      },
      {
        type: "line",
        z: 5,
        silent: true,
        data: [],
        markLine: {
          silent: true, animation: false, precision: 5,
          symbol: ["none", "arrow"], symbolSize: [6, 7],
          data: rightArrows,
        },
      },
      {
        type: "line", z: 6, silent: true, symbol: "none",
        lineStyle: { color: "#FFC72C", width: 2 },
        data: TENKAN.map((v, i) => [i, v]),
      },
      {
        type: "line", z: 6, silent: true, symbol: "none",
        lineStyle: { color: "#3BA34A", width: 2 },
        data: KIJUN.map((v, i) => [i, v]),
      },
      {
        type: "line", z: 6, silent: true, symbol: "none",
        lineStyle: { color: "#0A1ED8", width: 2.5 },
        data: CLOSE.slice(CHIKOU_SHIFT).map((v, i) => [i, v]),
      },
      {
        type: "line",
        z: 7,
        silent: true,
        data: [],
        markLine: {
          silent: true, animation: false, precision: 5,
          symbol: ["none", "arrow"], symbolSize: [9, 12],
          data: arrows,
        },
        markPoint: {
          silent: true,
          animation: false,
          data: [
            {
              coord: [TIMER.x, TIMER.p],
              symbol: "circle",
              symbolSize: 0,
              label: { show: true, position: "right", distance: 0, formatter: TIMER.text, color: "#70C99C", fontSize: 17, fontFamily: FONT },
            },
          ],
        },
      },
    ],
    graphic,
  };
}

export default function App() {
  const ref = useRef<HTMLDivElement>(null);
  useEffect(() => {
    if (!ref.current) return;
    const chart = echarts.init(ref.current, undefined, { renderer: "svg" });
    chart.setOption(buildOption());
    return () => chart.dispose();
  }, []);
  return (
    <div
      ref={ref}
      style={{ position: "absolute", left: 0, top: 0, width: 1679, height: 705, background: "#fff" }}
    />
  );
}
